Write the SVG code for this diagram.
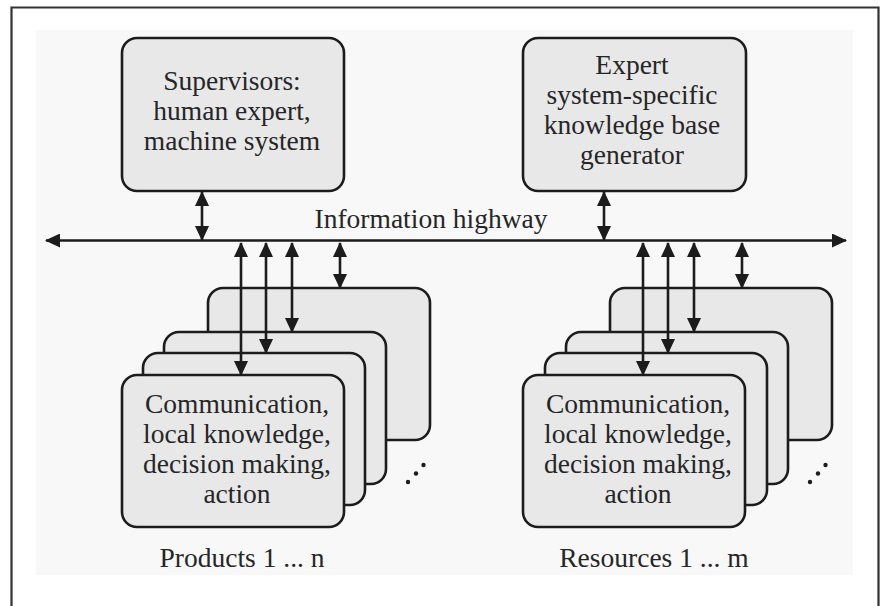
<svg xmlns="http://www.w3.org/2000/svg" width="880" height="606" viewBox="0 0 880 606">
<defs>
<style>
.box{fill:#e8e8e9;stroke:#1c1c1c;stroke-width:2.6}
.t{font-family:"Liberation Serif","Times New Roman",serif;font-size:27.5px;fill:#262626;text-anchor:middle}
.c{stroke:#1c1c1c;stroke-width:2.6;fill:none}
.d{marker-start:url(#ah);marker-end:url(#ah)}
</style>
<marker id="ah" viewBox="0 0 15 14" refX="14" refY="7" markerWidth="15" markerHeight="14" markerUnits="userSpaceOnUse" orient="auto-start-reverse">
<path d="M0,0 L15,7 L0,14 z" fill="#1c1c1c"/>
</marker>
</defs>
<rect x="0" y="0" width="880" height="606" fill="#ffffff"/>
<rect x="36" y="30" width="817" height="545" fill="#f8f8f8"/>
<path d="M11.5,606 V7.5 H878.5 V606" fill="none" stroke="#333" stroke-width="2.2"/>

<g id="supervisors">
<rect class="box" x="122" y="38" width="222" height="153" rx="15"/>
<text class="t" x="232" y="90">Supervisors:</text>
<text class="t" x="232" y="120">human expert,</text>
<text class="t" x="232" y="150">machine system</text>
</g>

<g id="kb-generator">
<rect class="box" x="523" y="38" width="223" height="153" rx="15"/>
<text class="t" x="632" y="74">Expert</text>
<text class="t" x="632" y="104">system-specific</text>
<text class="t" x="632" y="134">knowledge base</text>
<text class="t" x="632" y="164">generator</text>
</g>

<g id="highway-label">
<text class="t" x="431" y="228">Information highway</text>
</g>

<g id="products">
<rect class="box" x="208" y="288" width="222" height="152" rx="15"/>
<rect class="box" x="164" y="332" width="222" height="152" rx="15"/>
<rect class="box" x="143" y="353" width="222" height="152" rx="15"/>
<rect class="box" x="122" y="375" width="222" height="152" rx="15"/>
<text class="t" x="237" y="413">Communication,</text>
<text class="t" x="237" y="443">local knowledge,</text>
<text class="t" x="237" y="473">decision making,</text>
<text class="t" x="237" y="503">action</text>
<circle cx="408" cy="482" r="2.2" fill="#1c1c1c"/>
<circle cx="416" cy="473.5" r="2.2" fill="#1c1c1c"/>
<circle cx="423.5" cy="465" r="2.2" fill="#1c1c1c"/>
<text class="t" x="242" y="567">Products 1 ... n</text>
</g>

<g id="resources">
<rect class="box" x="610" y="288" width="222" height="152" rx="15"/>
<rect class="box" x="566" y="332" width="222" height="152" rx="15"/>
<rect class="box" x="545" y="353" width="222" height="152" rx="15"/>
<rect class="box" x="523" y="375" width="222" height="152" rx="15"/>
<text class="t" x="638" y="413">Communication,</text>
<text class="t" x="638" y="443">local knowledge,</text>
<text class="t" x="638" y="473">decision making,</text>
<text class="t" x="638" y="503">action</text>
<circle cx="810" cy="482" r="2.2" fill="#1c1c1c"/>
<circle cx="818" cy="473.5" r="2.2" fill="#1c1c1c"/>
<circle cx="825.5" cy="465" r="2.2" fill="#1c1c1c"/>
<text class="t" x="654" y="567">Resources 1 ... m</text>
</g>

<g id="connectors">
<line class="c d" x1="46" y1="240.5" x2="846" y2="240.5"/>
<line class="c d" x1="202" y1="192" x2="202" y2="240"/>
<line class="c d" x1="604" y1="192" x2="604" y2="240"/>
<line class="c d" x1="241" y1="243" x2="241" y2="375"/>
<line class="c d" x1="266" y1="243" x2="266" y2="353"/>
<line class="c d" x1="292" y1="243" x2="292" y2="332"/>
<line class="c d" x1="340" y1="243" x2="340" y2="288"/>
<line class="c d" x1="643" y1="243" x2="643" y2="375"/>
<line class="c d" x1="668" y1="243" x2="668" y2="353"/>
<line class="c d" x1="694" y1="243" x2="694" y2="332"/>
<line class="c d" x1="742" y1="243" x2="742" y2="288"/>
</g>
</svg>
